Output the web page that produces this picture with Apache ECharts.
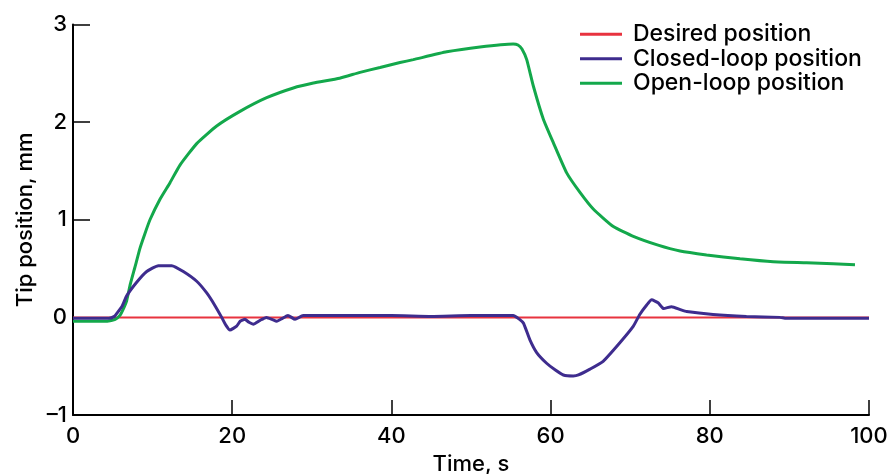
<!DOCTYPE html>
<html>
<head>
<meta charset="utf-8">
<script src="https://cdn.jsdelivr.net/npm/echarts@6/dist/echarts.min.js"></script>
<style>
html,body{margin:0;padding:0;background:#fff;}
#chart{width:891px;height:474px;}
</style>
</head>
<body>
<div id="chart"></div>
<script>
var seriesNames = ['Desired position', 'Closed-loop position', 'Open-loop position'];
var xTicks = [0, 20, 40, 60, 80, 100];
var yTicks = [-1, 0, 1, 2, 3];

var desiredT = [0, 100];
var desiredV = [0, 0];

var closedT = [0, 4.5, 5.2, 5.5, 6.2, 6.74, 8.0, 9.26, 10.72, 12.4, 13.86, 15.54, 16.8, 17.84, 18.68, 19.2, 19.72, 20.56, 21.0, 21.6, 22.1, 22.65, 23.5, 24.3, 25.0, 25.6, 26.3, 27.0, 27.9, 28.9, 30, 35, 40, 45, 50, 55.3, 56.1, 56.6, 57.4, 58.25, 59.5, 60.6, 61.6, 62.85, 63.5, 64.95, 66.6, 68.7, 70.4, 71.2, 72.1, 72.7, 73.5, 74.2, 75.2, 76.3, 77.1, 80.4, 84.6, 88.8, 89.6, 100];
var closedV = [-0.01, -0.01, 0.01, 0.04, 0.12, 0.22, 0.36, 0.47, 0.53, 0.53, 0.47, 0.37, 0.25, 0.12, 0.0, -0.08, -0.13, -0.09, -0.04, -0.02, -0.05, -0.07, -0.03, 0.0, -0.02, -0.04, -0.01, 0.02, -0.02, 0.02, 0.02, 0.02, 0.02, 0.01, 0.02, 0.02, -0.02, -0.06, -0.23, -0.36, -0.47, -0.54, -0.59, -0.6, -0.59, -0.53, -0.45, -0.26, -0.09, 0.03, 0.13, 0.18, 0.15, 0.09, 0.11, 0.08, 0.06, 0.03, 0.01, 0.0, -0.01, -0.01];

var openT = [0, 4.3, 5.3, 5.9, 6.4, 6.74, 7.2, 7.8, 8.42, 9.0, 9.67, 10.93, 12.19, 13.44, 15.54, 18.05, 20.98, 24.33, 27.68, 30.2, 33.5, 36.06, 38.57, 41.08, 42.75, 46.95, 51.13, 55.3, 55.9, 56.4, 57.0, 57.83, 59.09, 60.34, 62.02, 63.69, 65.36, 67.88, 70.39, 73.5, 76.26, 79.6, 83.8, 87.98, 92.17, 95.5, 98.24];
var openV = [-0.04, -0.04, -0.02, 0.02, 0.1, 0.17, 0.34, 0.52, 0.71, 0.85, 1.0, 1.21, 1.38, 1.56, 1.78, 1.96, 2.11, 2.25, 2.35, 2.40, 2.45, 2.51, 2.56, 2.61, 2.64, 2.72, 2.77, 2.80, 2.79, 2.75, 2.64, 2.37, 2.03, 1.79, 1.48, 1.28, 1.11, 0.93, 0.83, 0.74, 0.68, 0.64, 0.60, 0.57, 0.56, 0.55, 0.54];

function zip(t, v) { return t.map(function (x, i) { return [x, v[i]]; }); }

var FONT = 'Inter, "Liberation Sans", Arial, sans-serif';
var chart = echarts.init(document.getElementById('chart'));
chart.setOption({
  animation: false,
  backgroundColor: '#ffffff',
  textStyle: { fontFamily: FONT },
  grid: { left: 73, right: 22, top: 24.5, bottom: 59, containLabel: false, outerBoundsMode: 'none' },
  legend: {
    left: 575, top: 17, orient: 'vertical',
    icon: 'rect', itemWidth: 42, itemHeight: 3, itemGap: 0,
    data: seriesNames,
    textStyle: { fontFamily: FONT, fontSize: 23, fontWeight: 500, color: '#000', lineHeight: 24.5, padding: [0, 0, 0, 6] }
  },
  xAxis: {
    type: 'value', min: xTicks[0], max: xTicks[xTicks.length - 1], interval: 20,
    name: 'Time, s', nameLocation: 'middle', nameGap: 38,
    nameTextStyle: { fontFamily: FONT, fontSize: 22, fontWeight: 500, color: '#000' },
    axisLine: { show: true, onZero: false, lineStyle: { color: '#000', width: 2 } },
    axisTick: { show: true, inside: true, length: 15, lineStyle: { color: '#000', width: 1.5 } },
    axisLabel: { fontFamily: FONT, fontSize: 22, fontWeight: 500, color: '#000', margin: 10 },
    splitLine: { show: false }
  },
  yAxis: {
    type: 'value', min: yTicks[0], max: yTicks[yTicks.length - 1], interval: 1,
    name: 'Tip position, mm', nameLocation: 'middle', nameGap: 36,
    nameTextStyle: { fontFamily: FONT, fontSize: 22, fontWeight: 500, color: '#000' },
    axisLine: { show: true, onZero: false, lineStyle: { color: '#000', width: 2 } },
    axisTick: { show: true, inside: true, length: 17, lineStyle: { color: '#000', width: 1.5 } },
    axisLabel: { fontFamily: FONT, fontSize: 22, fontWeight: 500, color: '#000', margin: 6,
      formatter: function (v) { return v < 0 ? '\u2013' + Math.abs(v) : String(v); } },
    splitLine: { show: false }
  },
  series: [
    { name: seriesNames[0], type: 'line', data: zip(desiredT, desiredV), symbol: 'none', z: 2,
      lineStyle: { color: '#e8333f', width: 2 }, itemStyle: { color: '#e8333f' } },
    { name: seriesNames[2], type: 'line', data: zip(openT, openV), symbol: 'none', z: 3, smooth: 0.15,
      lineStyle: { color: '#13a84b', width: 3 }, itemStyle: { color: '#13a84b' } },
    { name: seriesNames[1], type: 'line', data: zip(closedT, closedV), symbol: 'none', z: 4, smooth: 0.15,
      lineStyle: { color: '#3e2c8e', width: 3 }, itemStyle: { color: '#3e2c8e' } }
  ]
});
</script>
</body>
</html>
